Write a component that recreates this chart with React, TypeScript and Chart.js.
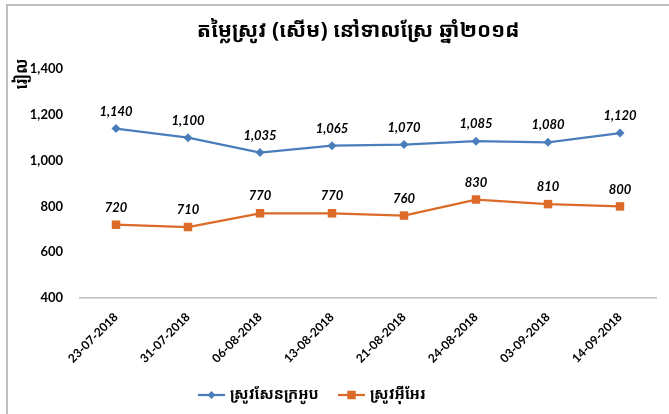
import React, { useEffect, useRef } from "react";
import { Chart, registerables } from "chart.js";

Chart.register(...registerables);

const titleText = "តម្លៃស្រូវ (សើម) នៅទាលស្រែ ឆ្នាំ២០១៨";
const yAxisTitle = "រៀល";
const categories = [
  "23-07-2018",
  "31-07-2018",
  "06-08-2018",
  "13-08-2018",
  "21-08-2018",
  "24-08-2018",
  "03-09-2018",
  "14-09-2018",
];
const seriesNames = ["ស្រូវសែនក្រអូប", "ស្រូវអ៊ីអែរ"];
const fragrantValues = [1140, 1100, 1035, 1065, 1070, 1085, 1080, 1120];
const irValues = [720, 710, 770, 770, 760, 830, 810, 800];
const yMin = 400;
const yMax = 1400;
const yStep = 200;

const BLUE = "#4A7EBB";
const ORANGE = "#DC6A28";
const KHMER_FONT = "'Khmer OS', 'Khmer OS System', 'Noto Sans Khmer', 'Noto Serif Khmer', 'Leelawadee UI', sans-serif";
const LATIN_FONT = "Lato, 'Open Sans', sans-serif";

const fmt = (v: number) => v.toLocaleString("en-US");

const decorPlugin = {
  id: "decor",
  afterDraw(chart: any) {
    const ctx = chart.ctx;
    const w = chart.width;
    const h = chart.height;
    ctx.save();
    // frame (top and left borders)
    ctx.strokeStyle = "#BFBFBF";
    ctx.lineWidth = 2;
    ctx.beginPath();
    ctx.moveTo(7, h);
    ctx.lineTo(7, 5);
    ctx.lineTo(w, 5);
    ctx.stroke();

    // title
    ctx.fillStyle = "#000";
    ctx.font = `bold 21px ${KHMER_FONT}`;
    ctx.textAlign = "center";
    ctx.textBaseline = "middle";
    ctx.fillText(titleText, 358, 31);

    // y axis title
    ctx.save();
    ctx.translate(22, 74);
    ctx.rotate(-Math.PI / 2);
    ctx.font = `bold 16px ${KHMER_FONT}`;
    ctx.textAlign = "center";
    ctx.textBaseline = "middle";
    ctx.fillText(yAxisTitle, 0, 0);
    ctx.restore();

    // data labels
    ctx.font = `italic bold 13px ${LATIN_FONT}`;
    ctx.textAlign = "center";
    ctx.textBaseline = "middle";
    chart.data.datasets.forEach((ds: any, di: number) => {
      const meta = chart.getDatasetMeta(di);
      meta.data.forEach((pt: any, i: number) => {
        ctx.fillText(fmt(ds.data[i]), pt.x, pt.y - 17);
      });
    });

    // legend
    const legendY = 395;
    const items = [
      { x: 198, color: BLUE, style: "rectRot", r: 4, text: seriesNames[0] },
      { x: 338, color: ORANGE, style: "rect", r: 6, text: seriesNames[1] },
    ];
    items.forEach((it) => {
      ctx.strokeStyle = it.color;
      ctx.lineWidth = 2.25;
      ctx.beginPath();
      ctx.moveTo(it.x, legendY);
      ctx.lineTo(it.x + 27, legendY);
      ctx.stroke();
      ctx.fillStyle = it.color;
      const cx = it.x + 13.5;
      if (it.style === "rectRot") {
        ctx.beginPath();
        ctx.moveTo(cx - it.r, legendY);
        ctx.lineTo(cx, legendY - it.r);
        ctx.lineTo(cx + it.r, legendY);
        ctx.lineTo(cx, legendY + it.r);
        ctx.closePath();
        ctx.fill();
      } else {
        const s = it.r * Math.SQRT1_2;
        ctx.fillRect(cx - s, legendY - s, 2 * s, 2 * s);
      }
      ctx.fillStyle = "#000";
      ctx.font = `bold 15px ${KHMER_FONT}`;
      ctx.textAlign = "left";
      ctx.textBaseline = "middle";
      ctx.fillText(it.text, it.x + 32, legendY);
    });
    ctx.restore();
  },
};

export default function App() {
  const ref = useRef<HTMLCanvasElement>(null);
  useEffect(() => {
    if (!ref.current) return;
    const chart = new Chart(ref.current, {
      type: "line",
      data: {
        labels: categories,
        datasets: [
          {
            label: seriesNames[0],
            data: fragrantValues,
            borderColor: BLUE,
            backgroundColor: BLUE,
            borderWidth: 2.25,
            pointStyle: "rectRot",
            pointRadius: 4.5,
            pointBorderWidth: 0,
            tension: 0,
          },
          {
            label: seriesNames[1],
            data: irValues,
            borderColor: ORANGE,
            backgroundColor: ORANGE,
            borderWidth: 2.25,
            pointStyle: "rect",
            pointRadius: 6,
            pointBorderWidth: 0,
            tension: 0,
          },
        ],
      },
      options: {
        responsive: false,
        animation: false,
        devicePixelRatio: 1,
        layout: { padding: { top: 69, right: 13, bottom: 36, left: 0 } },
        plugins: {
          legend: { display: false },
          title: { display: false },
          tooltip: { enabled: false },
        },
        scales: {
          x: {
            offset: true,
            grid: { display: false, drawTicks: false },
            border: { display: true, color: "#BFBFBF", width: 1.5 },
            ticks: {
              color: "#000",
              font: { family: LATIN_FONT, size: 12, weight: "bold" },
              maxRotation: 45,
              minRotation: 45,
              padding: 12,
              autoSkip: false,
            },
            afterFit: (s: any) => {
              s.height = 80;
            },
          },
          y: {
            min: yMin,
            max: yMax,
            grid: { display: false, drawTicks: false },
            border: { display: false },
            ticks: {
              stepSize: yStep,
              color: "#000",
              font: { family: LATIN_FONT, size: 13, weight: "bold" },
              padding: 17,
              callback: (v: any) => fmt(Number(v)),
            },
            afterFit: (s: any) => {
              s.width = 80;
            },
          },
        },
      },
      plugins: [decorPlugin],
    });
    return () => chart.destroy();
  }, []);
  return (
    <div style={{ position: "fixed", left: 0, top: 0, width: 669, height: 414, background: "#fff" }}>
      <canvas ref={ref} width={669} height={414} style={{ display: "block" }} />
    </div>
  );
}
